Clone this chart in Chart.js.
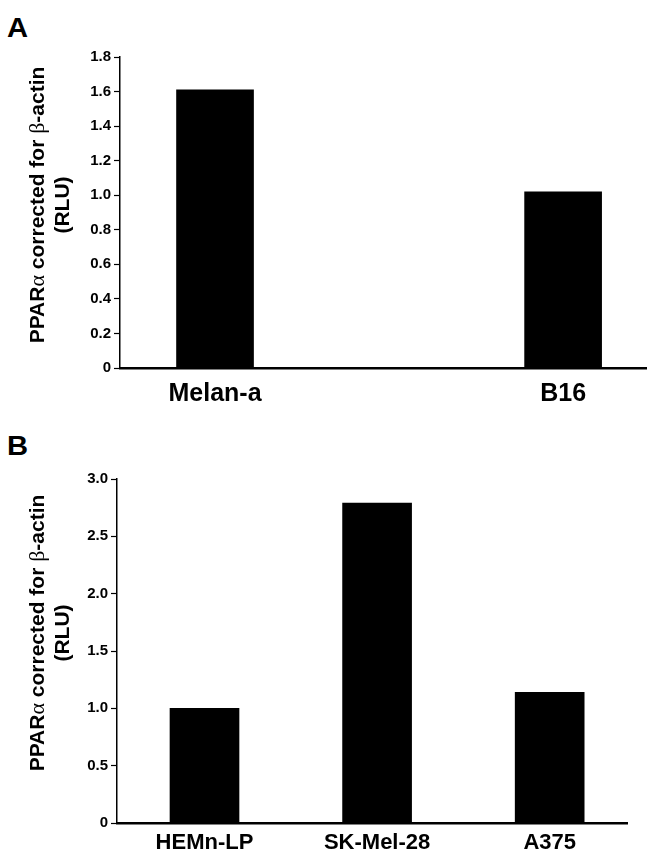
<!DOCTYPE html>
<html>
<head>
<meta charset="utf-8">
<script src="https://cdn.jsdelivr.net/npm/chart.js@4.4.1/dist/chart.umd.min.js"></script>
<style>
  body { margin: 0; background: #fff; width: 647px; height: 854px; overflow: hidden; position: relative; font-family: "Liberation Sans", Arial, sans-serif; }
  .panel { position: absolute; left: 0; width: 647px; }
  .letter { position: absolute; left: 7px; font-weight: bold; font-size: 27px; line-height: 1; color: #000; transform: scaleX(1.08); transform-origin: left top; }
</style>
</head>
<body>
<div class="letter" style="top:15px">A</div>
<div class="panel" style="top:0;height:415px"><canvas class="chart-a"></canvas></div>
<div class="letter" style="top:433px">B</div>
<div class="panel" style="top:420px;height:434px"><canvas class="chart-b"></canvas></div>
<script>
// panel A: mouse melanocytes vs melanoma
const mouseCells = ["Melan-a", "B16"];
const mouseValues = [1.61, 1.02];
const mouseTicks = [0, 0.2, 0.4, 0.6, 0.8, 1.0, 1.2, 1.4, 1.6, 1.8];

// panel B: human melanocytes vs melanoma lines
const humanCells = ["HEMn-LP", "SK-Mel-28", "A375"];
const humanValues = [1.0, 2.79, 1.14];
const humanTicks = [0, 0.5, 1.0, 1.5, 2.0, 2.5, 3.0];

// y title, greek letters are set in a lighter serif face like the original
const yTitleParts = [["PPAR", "b"], ["α", "g"], [" corrected for ", "b"], ["β", "g"], ["-actin", "b"]];
const yTitleSub = "(RLU)";

const font = "'Liberation Sans', Arial, sans-serif";
Chart.defaults.font.family = font;
Chart.defaults.color = "#000";

const fonts = { b: "bold 21px " + font, g: "22px 'Liberation Serif', serif" };

// draws the rotated two-line y title at a given center
const yTitlePlugin = {
  id: "yTitle",
  afterDraw(chart, args, o) {
    const ctx = chart.ctx;
    ctx.save();
    ctx.fillStyle = "#000";
    ctx.textBaseline = "middle";
    ctx.translate(o.x, o.y);
    ctx.rotate(-Math.PI / 2);
    let total = 0;
    for (const [t, f] of yTitleParts) { ctx.font = fonts[f]; total += ctx.measureText(t).width; }
    let pos = -total / 2;
    ctx.textAlign = "left";
    for (const [t, f] of yTitleParts) {
      ctx.font = fonts[f];
      ctx.fillText(t, pos, 0);
      pos += ctx.measureText(t).width;
    }
    ctx.font = fonts.b;
    ctx.textAlign = "center";
    ctx.fillText(yTitleSub, 0, o.gap);
    ctx.restore();
  },
};

function panel(sel, cells, values, ticks, opt) {
  const ctx = document.querySelector(sel).getContext("2d");
  return new Chart(ctx, {
    type: "bar",
    data: {
      datasets: [{
        data: cells.map((c, i) => ({ x: i + 1, y: values[i] })),
        backgroundColor: "#000",
        borderWidth: 0,
        barThickness: opt.barWidth,
      }],
    },
    plugins: [yTitlePlugin],
    options: {
      responsive: true,
      maintainAspectRatio: false,
      animation: false,
      events: [],
      layout: { padding: { top: opt.top, right: opt.right, left: 0, bottom: 0 } },
      plugins: {
        legend: { display: false },
        tooltip: { enabled: false },
        yTitle: { x: 38, y: opt.titleY, gap: 25 },
      },
      scales: {
        x: {
          type: "linear",
          offset: false,
          min: opt.xMin,
          max: opt.xMax,
          afterBuildTicks: (s) => { s.ticks = cells.map((c, i) => ({ value: i + 1 })); },
          afterFit: (s) => { s.height = opt.xHeight; },
          grid: { display: false, drawTicks: false, offset: false },
          border: { color: "#000", width: 2.5 },
          ticks: {
            callback: (v) => cells[v - 1] || "",
            font: { size: opt.catSize, weight: "bold" },
            padding: opt.catPad,
            maxRotation: 0,
            autoSkip: false,
          },
        },
        y: {
          min: 0,
          max: ticks[ticks.length - 1],
          afterBuildTicks: (s) => { s.ticks = ticks.map((v) => ({ value: v })); },
          afterFit: (s) => { s.width = opt.axisX; },
          grid: { drawOnChartArea: false, color: "#000", tickLength: 6, tickWidth: 1.2 },
          border: { color: "#000", width: 1.5 },
          ticks: {
            callback: (v) => (v === 0 ? "0" : v.toFixed(1)),
            font: { size: 15, weight: "bold" },
            padding: 3,
          },
        },
      },
    },
  });
}

panel(".chart-a", mouseCells, mouseValues, mouseTicks, {
  top: 57, right: 0, axisX: 120, xHeight: 47, titleY: 205,
  xMin: 0.727, xMax: 2.241, barWidth: 77, catSize: 25, catPad: 11,
});
panel(".chart-b", humanCells, humanValues, humanTicks, {
  top: 59, right: 20, axisX: 117, xHeight: 31, titleY: 213,
  xMin: 0.493, xMax: 3.448, barWidth: 69, catSize: 22, catPad: 7,
});
</script>
</body>
</html>
